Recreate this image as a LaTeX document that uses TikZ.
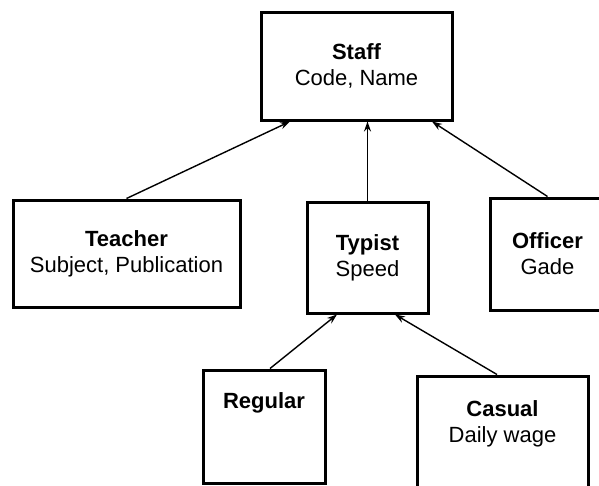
\documentclass[tikz,border=0pt]{standalone}
\usepackage{fontspec}
\setmainfont{Liberation Sans}
\usetikzlibrary{arrows.meta,calc}
\begin{document}
\begin{tikzpicture}[x=1pt,y=-1pt,
  box/.style={draw=black,line width=3pt,rectangle,inner sep=0pt,align=center,
    font=\fontsize{22}{26}\selectfont},
  txt/.style={align=center,inner sep=0pt,font=\fontsize{22}{26}\selectfont},
  link/.style={line width=1.4pt,-{Stealth[length=10pt,width=7pt]}}]
\useasboundingbox (0,0) rectangle (599,485);
\node[box,minimum width=191pt,minimum height=108pt] (staff) at (356.5,66) {\textbf{Staff}\\Code, Name};
\node[box,minimum width=227pt,minimum height=107pt] (teacher) at (126.5,253.5) {\textbf{Teacher}\\Subject, Publication};
\node[box,minimum width=121pt,minimum height=111pt] (typist) at (367.5,257.5) {\textbf{Typist}\\Speed};
\node[box,minimum width=115pt,minimum height=112pt] (officer) at (547.5,254) {\textbf{Officer}\\Gade};
\node[box,minimum width=122pt,minimum height=113pt] (regular) at (264,426.5) {};
\node[txt] (regulartext) at (264,403) {\textbf{Regular}};
\node[box,minimum width=171pt,minimum height=124pt] (casual) at (502.5,438) {};
\node[txt] (casualtext) at (502.5,424) {\textbf{Casual}\\Daily wage};
\draw[link] (teacher.north) -- ([xshift=-66.5pt]staff.south);
\draw[link] (typist.north) -- (typist.north |- staff.south);
\draw[link] (officer.north) -- ([xshift=75.5pt]staff.south);
\draw[link] ([xshift=6pt]regular.north) -- ([xshift=-30.5pt]typist.south);
\draw[link] ([xshift=-5.5pt]casual.north) -- ([xshift=27.5pt]typist.south);
\end{tikzpicture}
\end{document}
